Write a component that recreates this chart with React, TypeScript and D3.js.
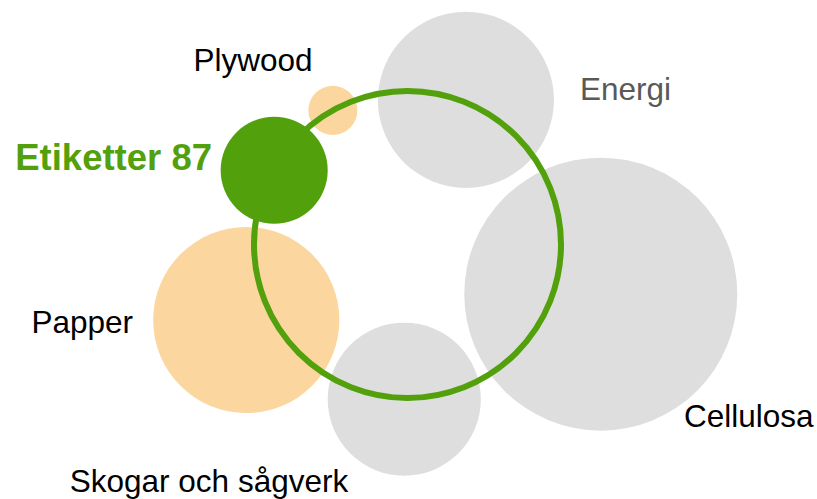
import React from "react";
import * as d3 from "d3";

// Data
const names = ["Cellulosa", "Papper", "Energi", "Skogar och sågverk", "Plywood", "Etiketter 87"];
const values = [186, 86.5, 77.4, 58.5, 6, 28.6]; // bubble sizes (area)
const angles = [104.4, 244.9, 22.0, 181.2, 330.9, 299.1]; // degrees clockwise from top
const distances = [1.3, 1.16, 1.016, 1.008, 1.0, 0.994]; // relative to ring radius
const groups = ["other", "related", "other", "other", "related", "focus"];

const W = 817;
const H = 499;
const ringCx = 407.5;
const ringCy = 244.5;
const ringR = 153.5;

const colorMap: Record<string, string> = {
  other: "#dedede",
  related: "#fbd79f",
  focus: "#52a00c",
};

// label layout (per name)
const labelLayout: Record<string, { x: number; y: number; anchor: string; fill: string; bold?: boolean }> = {
  Cellulosa: { x: 684, y: 427, anchor: "start", fill: "#000" },
  Papper: { x: 133, y: 333, anchor: "end", fill: "#000" },
  Energi: { x: 580, y: 100, anchor: "start", fill: "#595959" },
  "Skogar och sågverk": { x: 209, y: 492, anchor: "middle", fill: "#000" },
  Plywood: { x: 253, y: 71, anchor: "middle", fill: "#000" },
  "Etiketter 87": { x: 212, y: 170, anchor: "end", fill: "#52a00c", bold: true },
};

export default function App() {
  const rScale = d3.scaleSqrt().domain([0, d3.max(values) as number]).range([0, 136.5]);
  const distScale = d3.scaleLinear().domain([0, 1]).range([0, ringR]);

  const nodes = names.map((n, i) => {
    const a = (angles[i] * Math.PI) / 180;
    const d = distScale(distances[i]);
    return {
      name: n,
      x: ringCx + d * Math.sin(a),
      y: ringCy - d * Math.cos(a),
      r: rScale(values[i]),
      group: groups[i],
    };
  });

  const back = nodes.filter((n) => n.group !== "focus");
  const front = nodes.filter((n) => n.group === "focus");

  return (
    <svg
      width={W}
      height={H}
      style={{ position: "absolute", left: 0, top: 0, background: "#fff" }}
      fontFamily="'Liberation Sans', Arial, sans-serif"
    >
      {back.map((n) => (
        <circle key={n.name} cx={n.x} cy={n.y} r={n.r} fill={colorMap[n.group]} />
      ))}
      <circle cx={ringCx} cy={ringCy} r={ringR} fill="none" stroke="#52a00c" strokeWidth={6} />
      {front.map((n) => (
        <circle key={n.name} cx={n.x} cy={n.y} r={n.r} fill={colorMap[n.group]} />
      ))}
      {names.map((n) => {
        const l = labelLayout[n];
        return (
          <text
            key={"l" + n}
            x={l.x}
            y={l.y}
            textAnchor={l.anchor as any}
            fill={l.fill}
            fontSize={l.bold ? 36.5 : 31.5}
            fontWeight={l.bold ? "bold" : "normal"}
          >
            {n}
          </text>
        );
      })}
    </svg>
  );
}
